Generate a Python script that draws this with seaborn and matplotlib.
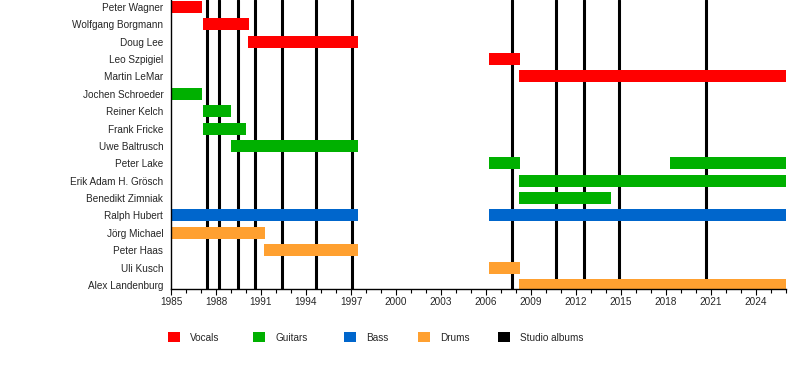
import matplotlib
matplotlib.use("Agg")
import matplotlib.pyplot as plt
from matplotlib.patches import Patch
from matplotlib.ticker import FixedLocator, MultipleLocator
import seaborn as sns

# members, top to bottom
members = ["Peter Wagner", "Wolfgang Borgmann", "Doug Lee", "Leo Szpigiel",
           "Martin LeMar", "Jochen Schroeder", "Reiner Kelch", "Frank Fricke",
           "Uwe Baltrusch", "Peter Lake", "Erik Adam H. Grösch",
           "Benedikt Zimniak", "Ralph Hubert", "Jörg Michael", "Peter Haas",
           "Uli Kusch", "Alex Landenburg"]

# (member, start, end) per role
vocals = [("Peter Wagner", 1985.0, 1987.1),
          ("Wolfgang Borgmann", 1987.1, 1990.2),
          ("Doug Lee", 1990.1, 1997.45),
          ("Leo Szpigiel", 2006.2, 2008.25),
          ("Martin LeMar", 2008.2, 2026.0)]
guitars = [("Jochen Schroeder", 1985.0, 1987.1),
           ("Reiner Kelch", 1987.1, 1989.0),
           ("Frank Fricke", 1987.1, 1990.0),
           ("Uwe Baltrusch", 1989.0, 1997.45),
           ("Peter Lake", 2006.2, 2008.25),
           ("Peter Lake", 2018.25, 2026.0),
           ("Erik Adam H. Grösch", 2008.2, 2026.0),
           ("Benedikt Zimniak", 2008.2, 2014.35)]
bass = [("Ralph Hubert", 1985.0, 1997.45),
        ("Ralph Hubert", 2006.2, 2026.0)]
drums = [("Jörg Michael", 1985.0, 1991.3),
         ("Peter Haas", 1991.2, 1997.45),
         ("Uli Kusch", 2006.2, 2008.25),
         ("Alex Landenburg", 2008.2, 2026.0)]

albums = [1987.42, 1988.22, 1989.49, 1990.62, 1992.42, 1994.67, 1997.09,
          2007.75, 2010.65, 2012.51, 2014.89, 2020.65]

year_ticks = list(range(1985, 2026, 3))

colors = {"Vocals": "#ff0000", "Guitars": "#00b000", "Bass": "#0066cc",
          "Drums": "#ffa030", "Studio albums": "#000000"}

sns.set_theme(style="white")
plt.rcParams["font.family"] = ["Liberation Sans", "DejaVu Sans"]

fig = plt.figure(figsize=(8, 3.68), dpi=100)
ax = fig.add_axes([0.21375, 0.2147, 0.76875, 0.7853])

for x in albums:
    ax.axvline(x, color="black", lw=2.2, zorder=1)

ypos = {m: i for i, m in enumerate(members)}
for role, spans in [("Vocals", vocals), ("Guitars", guitars),
                    ("Bass", bass), ("Drums", drums)]:
    for m, s, e in spans:
        ax.barh(ypos[m], e - s, left=s, height=0.69, color=colors[role],
                zorder=2, linewidth=0)

ax.set_xlim(1985, 2026)
ax.set_ylim(16.23, -0.40)
ax.set_yticks(range(len(members)))
ax.set_yticklabels(members, fontsize=7.2)
ax.xaxis.set_major_locator(FixedLocator(year_ticks))
ax.xaxis.set_minor_locator(MultipleLocator(1))
ax.tick_params(axis="x", which="major", bottom=True, length=4, width=0.8,
               color="black", labelsize=7.2, pad=2)
ax.tick_params(axis="x", which="minor", bottom=True, length=3, width=0.8,
               color="black")
ax.tick_params(axis="y", left=False, length=0, pad=5.5)
for sp in ["top", "right"]:
    ax.spines[sp].set_visible(False)
for sp in ["left", "bottom"]:
    ax.spines[sp].set_color("black")
    ax.spines[sp].set_linewidth(1)

# legend entries, placed one by one like the original
legend_x = [159, 244, 335, 409, 489]
for (k, c), lx in zip(colors.items(), legend_x):
    h = Patch(facecolor=c, edgecolor="none", label=k)
    fig.legend(handles=[h], loc="center left", bbox_to_anchor=(lx / 800, 0.083),
               frameon=False, fontsize=7.2, handlelength=1.2,
               handleheight=1.2, handletextpad=1.0)

fig.savefig("out.png", dpi=100)
